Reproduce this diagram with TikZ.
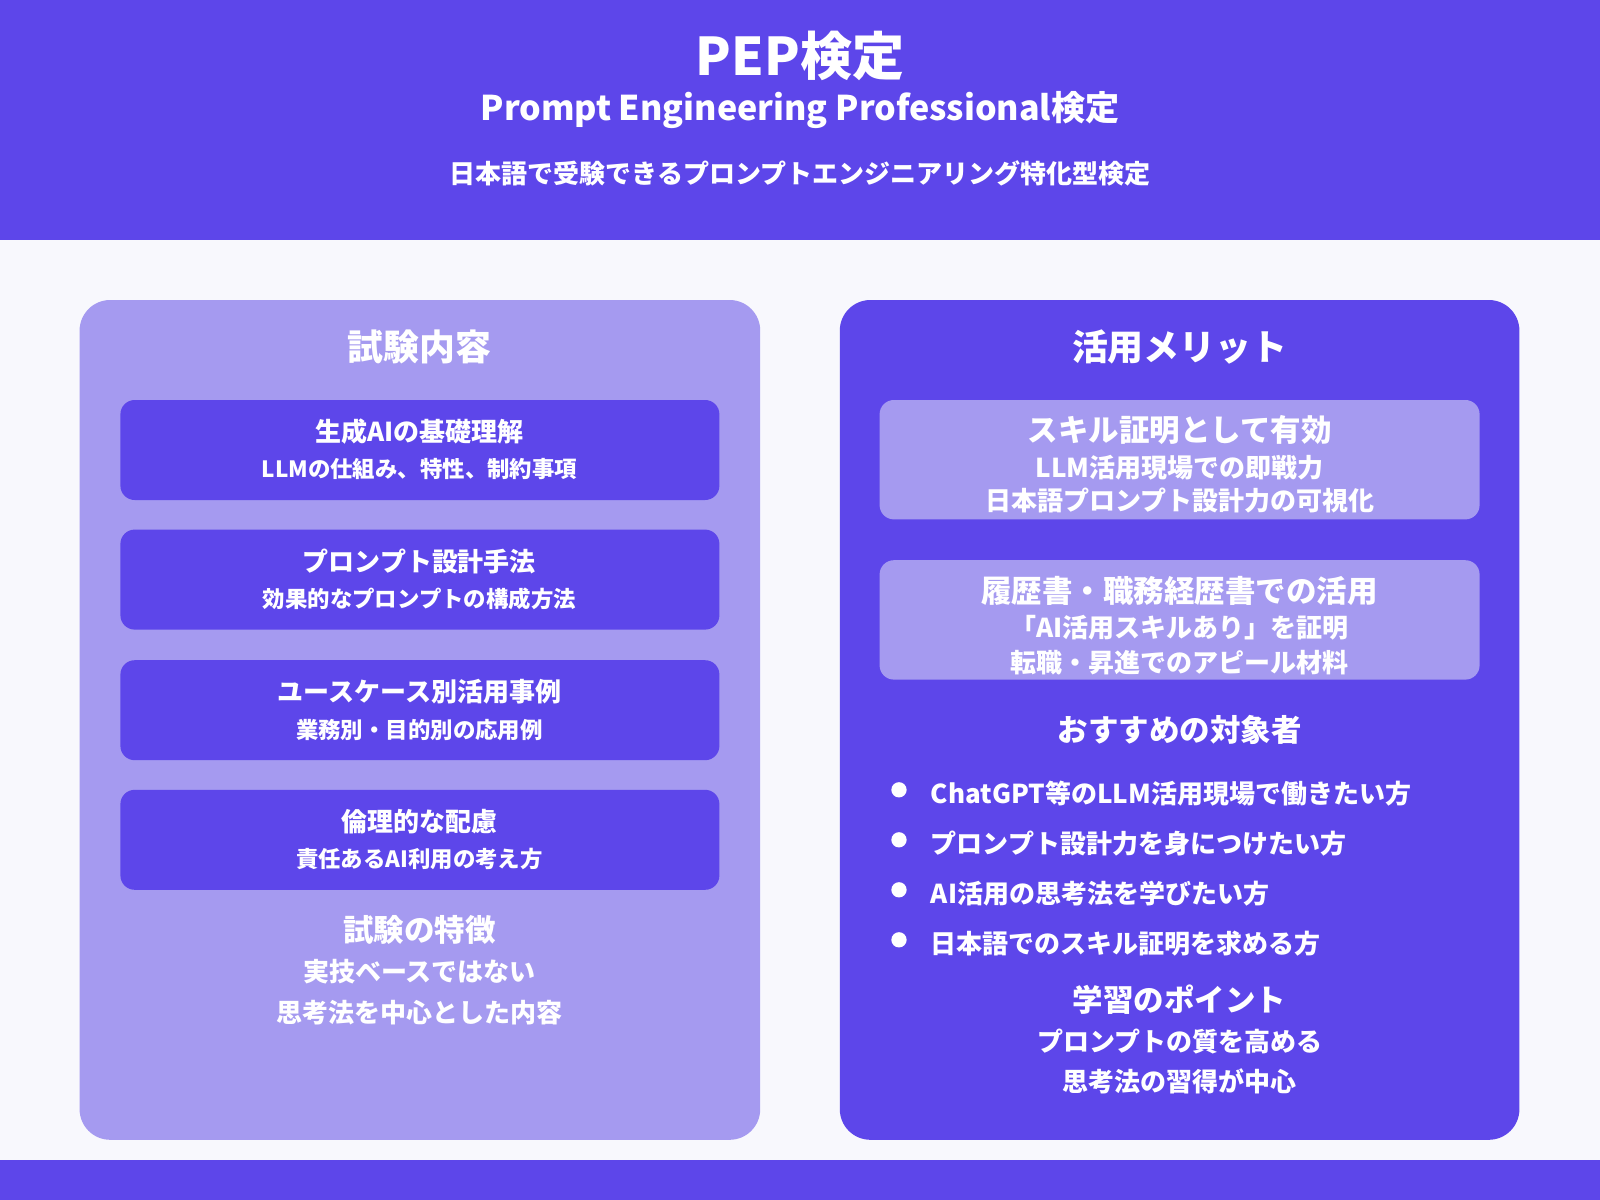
\documentclass[tikz,border=0pt]{standalone}
\usepackage{fontspec}
\setmainfont{Noto Sans CJK JP}
\definecolor{pepdark}{HTML}{5D46EA}
\definecolor{peplight}{HTML}{A59AF0}
\definecolor{pepbg}{HTML}{F8F8FD}
\newcommand{\pxsize}[1]{\fontsize{#1}{#1}\selectfont\bfseries}
\tikzset{
  txt/.style={text=white, inner sep=0pt, align=center},
  item/.style={fill=pepdark, rounded corners=0.28cm},
  merit/.style={fill=peplight, rounded corners=0.28cm},
  bullet/.style={circle, fill=white, minimum size=0.3cm, inner sep=0pt}
}
\begin{document}
\begin{tikzpicture}[x=0.02cm, y=-0.02cm]
\useasboundingbox (0,0) rectangle (1568,1176);
\fill[pepbg] (0,0) rectangle (1568,1176);
% header and footer
\fill[pepdark] (0,0) rectangle (1568,235);
\fill[pepdark] (0,1137) rectangle (1568,1176);
\node[txt] (title) at (784,55) {\pxsize{29pt}PEP検定};
\node[txt] (subtitle) at (784,108) {\pxsize{19pt}Prompt Engineering Professional検定};
\node[txt] (tagline) at (784,170) {\pxsize{14.5pt}日本語で受験できるプロンプトエンジニアリング特化型検定};

% left panel
\fill[peplight, rounded corners=0.6cm] (78,294) rectangle (745,1117);
\node[txt] (lefttitle) at (411,340) {\pxsize{20pt}試験内容};
\foreach \y/\head/\sub [count=\i] in {392/生成AIの基礎理解/LLMの仕組み、特性、制約事項,
    519/プロンプト設計手法/効果的なプロンプトの構成方法,
    647/ユースケース別活用事例/業務別・目的別の応用例,
    774/倫理的な配慮/責任あるAI利用の考え方}{
  \fill[item] (118,\y) rectangle (705,\y+98);
  \node[txt] (head\i) at (411,\y+31) {\pxsize{14.5pt}\head};
  \node[txt] (sub\i) at (411,\y+68) {\pxsize{12.5pt}\sub};
}
\node[txt] (feature) at (411,911) {\pxsize{17pt}試験の特徴};
\node[txt] (feature1) at (411,952) {\pxsize{14.5pt}実技ベースではない};
\node[txt] (feature2) at (411,992) {\pxsize{14.5pt}思考法を中心とした内容};

% right panel
\fill[pepdark, rounded corners=0.6cm] (823,294) rectangle (1489,1117);
\node[txt] (righttitle) at (1156,340) {\pxsize{20pt}活用メリット};
\fill[merit] (862,392) rectangle (1450,509);
\node[txt] (skill) at (1156,421) {\pxsize{17pt}スキル証明として有効};
\node[txt] (skill1) at (1156,458) {\pxsize{14.5pt}LLM活用現場での即戦力};
\node[txt] (skill2) at (1156,491) {\pxsize{14.5pt}日本語プロンプト設計力の可視化};
\fill[merit] (862,549) rectangle (1450,666);
\node[txt] (resume) at (1156,579) {\pxsize{17pt}履歴書・職務経歴書での活用};
\node[txt] (resume1) at (1156,615) {\pxsize{14.5pt}「AI活用スキルあり」を証明};
\node[txt] (resume2) at (1156,649) {\pxsize{14.5pt}転職・昇進でのアピール材料};
\node[txt] (target) at (1156,715) {\pxsize{17pt}おすすめの対象者};
\foreach \y/\who [count=\i] in {778/ChatGPT等のLLM活用現場で働きたい方,
    827/プロンプト設計力を身につけたい方,
    876/AI活用の思考法を学びたい方,
    925/日本語でのスキル証明を求める方}{
  \node[bullet] (dot\i) at (881,\y-4) {};
  \node[txt, anchor=west] (who\i) at (912,\y) {\pxsize{14.5pt}\who};
}
\node[txt] (point) at (1156,980) {\pxsize{17pt}学習のポイント};
\node[txt] (point1) at (1156,1021) {\pxsize{14.5pt}プロンプトの質を高める};
\node[txt] (point2) at (1156,1060) {\pxsize{14.5pt}思考法の習得が中心};
\end{tikzpicture}
\end{document}
